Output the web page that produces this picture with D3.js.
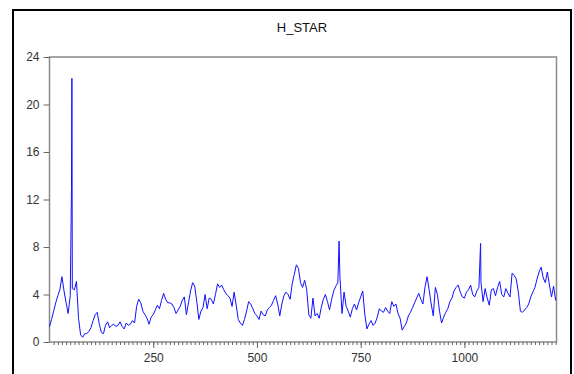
<!DOCTYPE html>
<html>
<head>
<meta charset="utf-8">
<script src="https://cdn.jsdelivr.net/npm/d3@7"></script>
<style>
  body { margin: 0; background: #fff; }
  .chart text { font-family: Arial, "Liberation Sans", sans-serif; }
</style>
</head>
<body>
<div class="chart"></div>
<script>
// H_STAR, one value every 5 observations (obs 0, 5, 10 ... 1220)
var step = 5;
var hstar = [
  1.3, 1.9, 2.6, 3.3, 3.9, 4.4, 5.5, 4.3, 3.3, 2.4,
  3.9, 4.5, 4.4, 5.1, 2.0, 0.6, 0.4, 0.7, 0.7, 0.9,
  1.2, 1.8, 2.3, 2.5, 1.5, 0.8, 0.7, 1.4, 1.7, 1.2,
  1.4, 1.5, 1.3, 1.4, 1.7, 1.3, 1.1, 1.6, 1.4, 1.5,
  1.8, 1.6, 3.0, 3.6, 3.3, 2.6, 2.3, 2.0, 1.5, 2.1,
  2.3, 2.7, 3.1, 2.8, 3.5, 4.1, 3.6, 3.3, 3.3, 3.2,
  2.9, 2.4, 2.7, 3.0, 3.5, 3.8, 2.3, 3.3, 4.3, 5.0,
  4.7, 3.4, 1.9, 2.6, 2.9, 4.0, 2.8, 3.7, 3.6, 3.2,
  4.0, 4.9, 4.6, 4.8, 4.4, 4.1, 3.9, 3.7, 3.0, 4.2,
  3.1, 1.9, 1.6, 1.4, 1.9, 2.6, 3.4, 3.2, 2.8, 2.4,
  2.2, 1.9, 2.6, 2.3, 2.2, 2.7, 2.9, 3.1, 3.5, 3.9,
  3.2, 2.2, 3.2, 3.9, 4.2, 4.0, 3.6, 4.9, 5.7, 6.5,
  6.2, 5.0, 4.6, 5.2, 4.4, 2.3, 2.0, 3.7, 2.2, 2.4,
  2.0, 2.9, 3.6, 4.0, 3.4, 2.7, 3.6, 4.3, 4.7, 5.0,
  5.5, 2.4, 4.2, 3.0, 2.6, 2.1, 2.8, 3.2, 2.7, 3.3,
  3.8, 4.3, 2.3, 1.1, 1.5, 1.8, 1.4, 1.6, 2.1, 2.8,
  2.6, 2.5, 2.9, 2.6, 2.4, 3.4, 3.0, 3.2, 2.4, 2.0,
  1.0, 1.3, 1.6, 2.2, 2.5, 2.9, 3.3, 3.7, 4.1, 3.6,
  3.2, 4.6, 5.5, 4.4, 3.2, 2.2, 4.6, 4.0, 2.6, 1.6,
  2.1, 2.5, 2.8, 3.4, 3.7, 4.3, 4.6, 4.8, 4.2, 3.8,
  3.7, 4.2, 4.4, 4.8, 4.0, 3.8, 4.3, 4.6, 5.0, 3.4,
  4.5, 3.7, 3.1, 4.4, 4.5, 3.9, 4.6, 5.1, 4.0, 3.8,
  4.5, 4.1, 3.8, 5.8, 5.6, 5.3, 4.2, 2.6, 2.5, 2.7,
  2.9, 3.2, 3.8, 4.2, 4.6, 5.3, 5.9, 6.3, 5.4, 5.0,
  5.9, 4.8, 3.8, 4.7, 3.5
];
// single-observation spikes that fall between the 5-step readings
var spikeObs = [53, 54, 698, 1039];
var spikeVal = [13.0, 22.2, 8.5, 8.3];

var yTicks = [0, 4, 8, 12, 16, 20, 24];
var xTicks = [250, 500, 750, 1000];
var title = "H_STAR";

function drawChart() {
  var width = 574, height = 374;
  var margin = { top: 57, right: 17.5, bottom: 32, left: 49.5 };

  var points = hstar.map(function(v, i) { return { obs: i * step, v: v }; });
  spikeObs.forEach(function(o, i) { points.push({ obs: o, v: spikeVal[i] }); });
  points.sort(function(a, b) { return a.obs - b.obs; });

  var svg = d3.select(".chart").append("svg")
    .attr("width", width)
    .attr("height", height);

  // outer frame
  svg.append("rect")
    .attr("x", 13).attr("y", 10)
    .attr("width", 558).attr("height", 400)
    .attr("fill", "none")
    .attr("stroke", "#000")
    .attr("stroke-width", 2);

  svg.append("text")
    .attr("x", 302).attr("y", 32)
    .attr("text-anchor", "middle")
    .attr("font-size", 13)
    .attr("fill", "#111")
    .text(title);

  var x = d3.scaleLinear()
    .domain([0, 1222])
    .range([margin.left, width - margin.right]);

  var y = d3.scaleLinear()
    .domain([0, 24])
    .range([height - margin.bottom, margin.top]);

  // plot frame
  svg.append("rect")
    .attr("x", x(0)).attr("y", y(24))
    .attr("width", x(1222) - x(0))
    .attr("height", y(0) - y(24))
    .attr("fill", "none")
    .attr("stroke", "#8a8a8a")
    .attr("stroke-width", 1.5);

  var yAxis = svg.append("g")
    .attr("transform", "translate(" + x(0) + ",0)")
    .call(d3.axisLeft(y).tickValues(yTicks).tickSize(6).tickPadding(4));

  var xMinor = svg.append("g")
    .attr("transform", "translate(0," + y(0) + ")")
    .call(d3.axisBottom(x).tickValues(d3.range(10, 1222, 10)).tickSize(3).tickFormat(""));

  var xAxis = svg.append("g")
    .attr("transform", "translate(0," + y(0) + ")")
    .call(d3.axisBottom(x).tickValues(xTicks).tickSize(6).tickPadding(5).tickFormat(d3.format("d")));

  [yAxis, xMinor, xAxis].forEach(function(g) {
    g.select(".domain").remove();
    g.selectAll(".tick line").attr("stroke", "#666");
    g.selectAll(".tick text")
      .attr("font-size", 12)
      .attr("font-family", "Arial, 'Liberation Sans', sans-serif")
      .attr("fill", "#333");
  });

  var line = d3.line()
    .x(function(d) { return x(d.obs); })
    .y(function(d) { return y(d.v); });

  svg.append("path")
    .datum(points)
    .attr("fill", "none")
    .attr("stroke", "#1010ff")
    .attr("stroke-width", 1)
    .attr("d", line);
}

drawChart();
</script>
</body>
</html>
